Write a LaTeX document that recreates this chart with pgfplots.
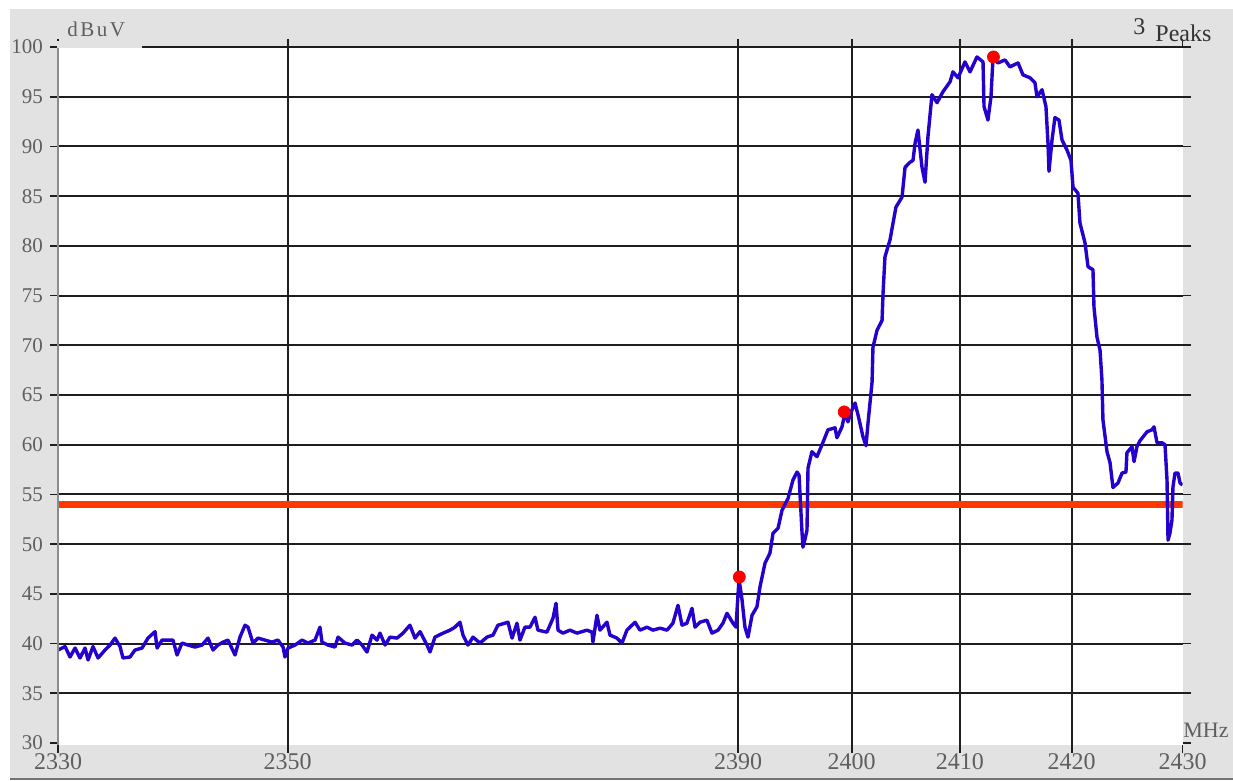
\documentclass[border=0pt]{standalone}
\usepackage{fontspec}
\setmainfont{Liberation Serif}
\usepackage{pgfplots}
\pgfplotsset{compat=1.18}
\usepackage{pgfplotstable}
\definecolor{bggray}{RGB}{226,226,226}
\definecolor{tracec}{RGB}{38,0,204}
\definecolor{limitc}{RGB}{255,56,0}
\definecolor{lbl}{RGB}{95,95,95}
\definecolor{gridc}{RGB}{30,30,30}

\pgfplotstableread{
f v
2329.82 39.35
2330.45 39.70
2330.89 38.65
2331.34 39.55
2331.78 38.55
2332.23 39.55
2332.50 38.35
2332.94 39.70
2333.39 38.55
2334.01 39.35
2334.46 39.85
2334.90 40.55
2335.35 39.70
2335.61 38.55
2336.24 38.65
2336.68 39.35
2337.31 39.55
2337.84 40.55
2338.47 41.20
2338.65 39.55
2339.09 40.35
2339.63 40.35
2340.07 40.35
2340.43 38.85
2340.87 40.05
2341.41 39.85
2342.03 39.65
2342.66 39.85
2343.19 40.55
2343.64 39.35
2344.08 39.85
2344.53 40.15
2344.97 40.35
2345.60 38.85
2346.04 40.65
2346.49 41.85
2346.76 41.65
2347.20 40.05
2347.65 40.55
2348.27 40.35
2348.89 40.15
2349.43 40.35
2349.88 39.65
2350.05 38.65
2350.32 39.55
2350.95 39.85
2351.57 40.35
2352.10 40.05
2352.73 40.35
2353.17 41.65
2353.35 40.15
2353.89 39.85
2354.51 39.65
2354.78 40.65
2355.40 40.05
2356.03 39.85
2356.47 40.35
2356.92 39.85
2357.36 39.15
2357.81 40.85
2358.25 40.35
2358.52 41.05
2358.97 39.85
2359.41 40.65
2360.04 40.55
2360.57 41.05
2361.19 41.85
2361.64 40.55
2362.09 41.20
2362.71 39.85
2362.98 39.15
2363.42 40.65
2364.14 41.05
2364.76 41.35
2365.20 41.65
2365.65 42.15
2365.92 40.85
2366.36 39.85
2366.81 40.65
2367.43 40.05
2368.06 40.65
2368.59 40.85
2369.04 41.85
2369.66 42.05
2369.93 42.15
2370.29 40.55
2370.73 42.05
2371.00 40.35
2371.44 41.65
2371.89 41.65
2372.34 42.65
2372.60 41.35
2373.40 41.15
2373.94 42.55
2374.21 44.05
2374.39 41.35
2374.83 41.05
2375.45 41.35
2376.08 41.05
2376.97 41.35
2377.42 41.15
2377.50 40.15
2377.86 42.85
2378.13 41.35
2378.75 42.15
2379.02 40.85
2379.64 40.55
2380.09 40.05
2380.53 41.35
2381.25 42.15
2381.69 41.35
2382.32 41.65
2382.85 41.35
2383.48 41.55
2384.10 41.35
2384.63 42.05
2385.08 43.85
2385.44 41.85
2385.88 42.05
2386.33 43.55
2386.60 41.65
2387.04 42.15
2387.66 42.35
2388.11 41.05
2388.65 41.35
2389.09 42.05
2389.45 43.05
2389.98 42.05
2390.25 41.65
2390.52 46.50
2390.79 44.40
2391.05 41.65
2391.32 40.65
2391.68 42.85
2392.12 43.70
2392.39 45.70
2392.84 48.10
2393.28 49.10
2393.55 51.10
2394.00 51.60
2394.35 53.40
2394.89 54.60
2395.33 56.45
2395.69 57.25
2395.87 56.95
2396.14 51.10
2396.22 49.70
2396.40 50.50
2396.58 51.40
2396.67 57.65
2397.02 59.30
2397.47 58.80
2397.92 60.00
2398.45 61.50
2399.08 61.70
2399.25 60.70
2399.70 61.80
2399.97 63.20
2400.23 62.30
2400.59 63.50
2400.86 64.20
2401.13 63.00
2401.57 60.80
2401.84 59.90
2402.02 62.20
2402.38 66.30
2402.46 69.80
2402.82 71.50
2403.27 72.50
2403.36 75.25
2403.53 78.90
2403.98 80.60
2404.25 82.30
2404.51 83.90
2405.05 84.90
2405.32 87.90
2405.76 88.40
2406.03 88.60
2406.21 90.30
2406.47 91.65
2406.83 87.90
2407.10 86.40
2407.36 90.95
2407.72 95.20
2408.17 94.40
2408.70 95.50
2409.33 96.50
2409.59 97.50
2410.04 96.90
2410.66 98.50
2411.11 97.50
2411.73 99.00
2412.27 98.50
2412.36 94.00
2412.71 92.65
2412.98 95.00
2413.16 98.90
2413.60 98.40
2414.23 98.70
2414.67 98.00
2415.39 98.40
2415.83 97.20
2416.46 96.90
2416.90 96.40
2417.08 95.00
2417.53 95.70
2417.88 94.00
2418.06 90.35
2418.15 87.50
2418.42 90.65
2418.68 92.90
2419.04 92.65
2419.31 90.65
2419.75 89.65
2420.11 88.60
2420.29 85.90
2420.73 85.30
2420.91 82.30
2421.36 80.30
2421.63 77.90
2422.07 77.60
2422.16 73.85
2422.43 70.80
2422.70 69.50
2422.87 66.50
2422.96 62.50
2423.32 59.30
2423.59 58.20
2423.85 55.70
2424.30 56.15
2424.66 57.15
2425.01 57.25
2425.10 59.20
2425.55 59.80
2425.73 58.30
2425.99 59.80
2426.26 60.40
2426.89 61.30
2427.33 61.50
2427.51 61.80
2427.78 60.20
2428.22 60.20
2428.49 60.00
2428.67 56.45
2428.76 50.40
2428.93 51.10
2429.11 52.40
2429.20 55.75
2429.38 57.15
2429.65 57.15
2429.83 56.15
2430.05 55.95
}\tracedata

\begin{document}
\begin{tikzpicture}[x=1pt,y=1pt]
\useasboundingbox (-29,-18) rectangle (587.5,372.5);
\fill[white] (-29,-18) rectangle (587.5,372.5);
\fill[bggray] (-24,-17) rectangle (587.5,368);
\draw[black!55, line width=1pt] (-24,-17) -- (587.5,-17);
\begin{axis}[
  at={(0pt,0pt)}, anchor=south west,
  scale only axis, width=562.25pt, height=349pt,
  xmin=2329.82, xmax=2430.05, ymin=29.8, ymax=100,
  axis background/.style={fill=white},
  axis line style={draw=none},
  grid=major, major grid style={gridc, line width=0.95pt},
  xtick={2350.29,2390.45,2400.56,2410.21,2420.17},
  xticklabels={2350,2390,2400,2410,2420},
  extra x ticks={2329.82,2430.05}, extra x tick labels={2330,2430},
  extra x tick style={grid=none},
  ytick={35,40,...,100},
  extra y ticks={30}, extra y tick style={grid=none},
  tick align=outside, major tick length=4pt,
  tick style={gridc, line width=0.9pt},
  /pgf/number format/assume math mode=true,
  yticklabel style={font=\fontsize{10.5}{10.5}\selectfont, text=lbl},
  xticklabel style={font=\fontsize{12}{12}\selectfont, text=lbl, inner sep=1pt, yshift=1pt},
]
\addplot[limitc, line width=3.5pt, forget plot] coordinates {(2329.82,54) (2430.05,54)};
\addplot[only marks, mark=*, mark size=3pt, red, mark options={draw=none}, forget plot]
  coordinates {(2390.55,46.7) (2399.90,63.3) (2413.20,99.0)};
\addplot[tracec, line width=1.7pt, line join=round] table[x=f,y=v]{\tracedata};
\end{axis}
\draw[black!45, line width=0.8pt] (0,0) -- (0,349);
\fill[bggray] (-0.5,348.5) rectangle (42,352);
\node[anchor=base west, inner sep=0, text=lbl, font=\fontsize{10.5}{10.5}\selectfont] at (4.5,354) {\addfontfeature{LetterSpace=12}dBuV};
\node[anchor=base west, inner sep=0, text=lbl, font=\fontsize{11}{11}\selectfont] at (562.5,3.5) {MHz};
\node[anchor=base west, inner sep=0, text=black!80, font=\fontsize{12}{12}\selectfont] at (537.5,355) {3};
\node[anchor=base west, inner sep=0, text=black!80, font=\fontsize{12}{12}\selectfont] at (548.5,351.5) {Peaks};
\end{tikzpicture}
\end{document}
